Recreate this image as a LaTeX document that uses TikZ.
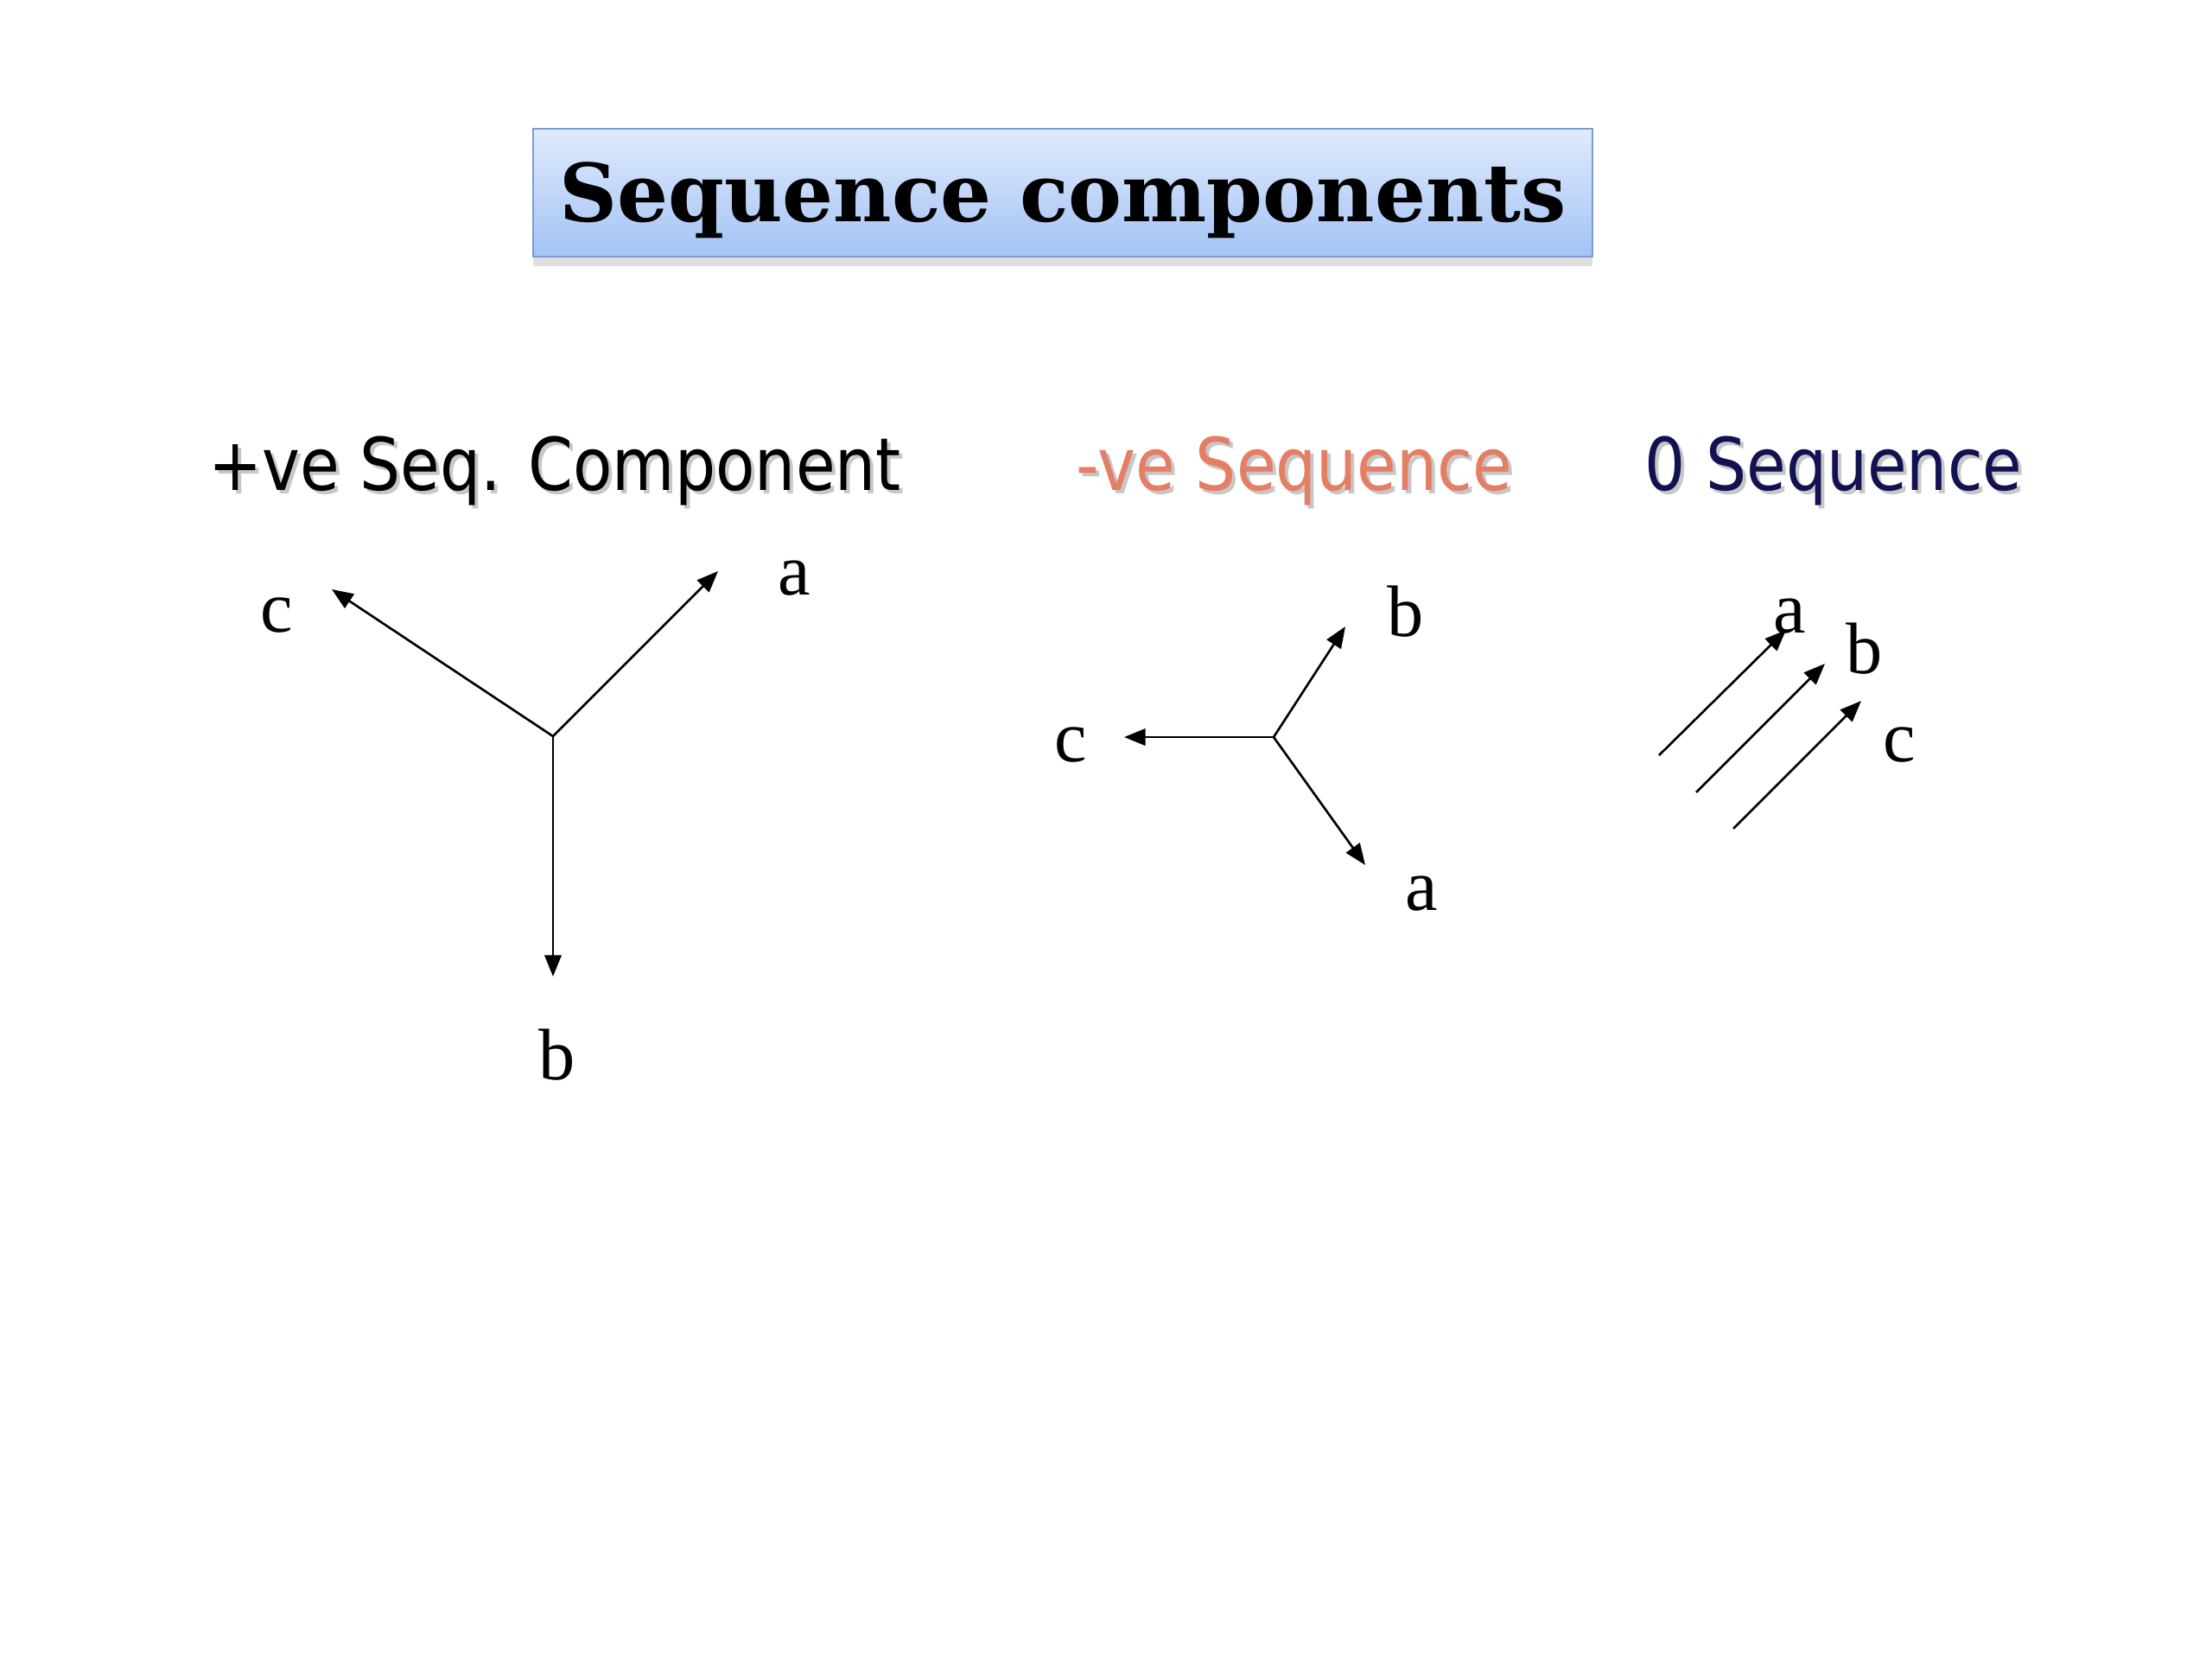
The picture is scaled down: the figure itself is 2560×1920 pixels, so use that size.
\documentclass[tikz,border=0pt]{standalone}
\usepackage{fontspec}
\setmainfont{Liberation Serif}
\setsansfont{DejaVu Sans}
\newfontfamily\titlefont{DejaVu Serif}
\usetikzlibrary{arrows.meta, shadows}
\definecolor{boxtop}{RGB}{224, 234, 252}
\definecolor{boxbottom}{RGB}{163, 195, 245}
\definecolor{boxedge}{RGB}{125, 155, 215}
\definecolor{negred}{RGB}{228, 126, 100}
\definecolor{zeronavy}{RGB}{18, 18, 82}

\newcommand{\headtext}[1]{\scalebox{0.88}[1]{#1}}

\begin{document}
\begin{tikzpicture}[x=0.01cm, y=-0.01cm,
            % Reusable styles for the slide elements
            phasor/.style={-{Triangle[length=7pt, width=5.5pt]}, line width=0.75pt, black},
            lbl/.style={font=\fontsize{24}{28}\selectfont, inner sep=0pt},
            heading/.style={font=\sffamily\fontsize{24}{28}\selectfont, anchor=base, inner sep=0pt},
            headshadow/.style={heading, text=black!22},
            titlebox/.style={draw=boxedge, line width=0.6pt, top color=boxtop, bottom color=boxbottom,
                minimum width=12.26cm, minimum height=1.48cm, text height=25.5pt, text depth=6.3pt,
                drop shadow={opacity=0.25, shadow xshift=0pt, shadow yshift=-3pt}}
        ]

        \useasboundingbox (0, 0) rectangle (2560, 1920);

        \node[titlebox, font=\titlefont\bfseries\fontsize{26.4}{30}\selectfont] (title) at (1230, 223) {Sequence components};

        % Headings, each with a soft grey shadow
        \node[headshadow] at (646, 571) {\headtext{+ve Seq. Component}};
        \node[heading] (pos-head) at (642, 567) {\headtext{+ve Seq. Component}};
        \node[headshadow] at (1502, 571) {\headtext{-ve Sequence}};
        \node[heading, text=negred] (neg-head) at (1498, 567) {\headtext{-ve Sequence}};
        \node[headshadow] at (2126, 571) {\headtext{0 Sequence}};
        \node[heading, text=zeronavy] (zero-head) at (2122, 567) {\headtext{0 Sequence}};

        % Positive sequence
        \coordinate (pos-o) at (640, 852);
        \coordinate (pos-a) at (831, 661);
        \coordinate (pos-b) at (640, 1130);
        \coordinate (pos-c) at (384, 682);
        \foreach \p in {a, b, c} {
            \draw[phasor] (pos-o) -- (pos-\p);
        }
        \node[lbl] (pos-la) at (919, 669) {a};
        \node[lbl] (pos-lb) at (645, 1221) {b};
        \node[lbl] (pos-lc) at (320, 712) {c};

        % Negative sequence
        \coordinate (neg-o) at (1474, 853);
        \coordinate (neg-a) at (1580, 1001);
        \coordinate (neg-b) at (1557, 725);
        \coordinate (neg-c) at (1301, 853);
        \foreach \p in {a, b, c} {
            \draw[phasor] (neg-o) -- (neg-\p);
        }
        \node[lbl] (neg-la) at (1645, 1034) {a};
        \node[lbl] (neg-lb) at (1627, 708) {b};
        \node[lbl] (neg-lc) at (1239, 862) {c};

        % Zero sequence
        \foreach \p/\sx/\sy/\tx/\ty in {a/1920/874/2067/729, b/1963/917/2112/768, c/2006/959/2154/811} {
            \coordinate (zero-\p0) at (\sx, \sy);
            \coordinate (zero-\p) at (\tx, \ty);
            \draw[phasor] (zero-\p0) -- (zero-\p);
        }
        \node[lbl] (zero-la) at (2071, 713) {a};
        \node[lbl] (zero-lb) at (2158, 751) {b};
        \node[lbl] (zero-lc) at (2198, 862) {c};

\end{tikzpicture}
\end{document}
